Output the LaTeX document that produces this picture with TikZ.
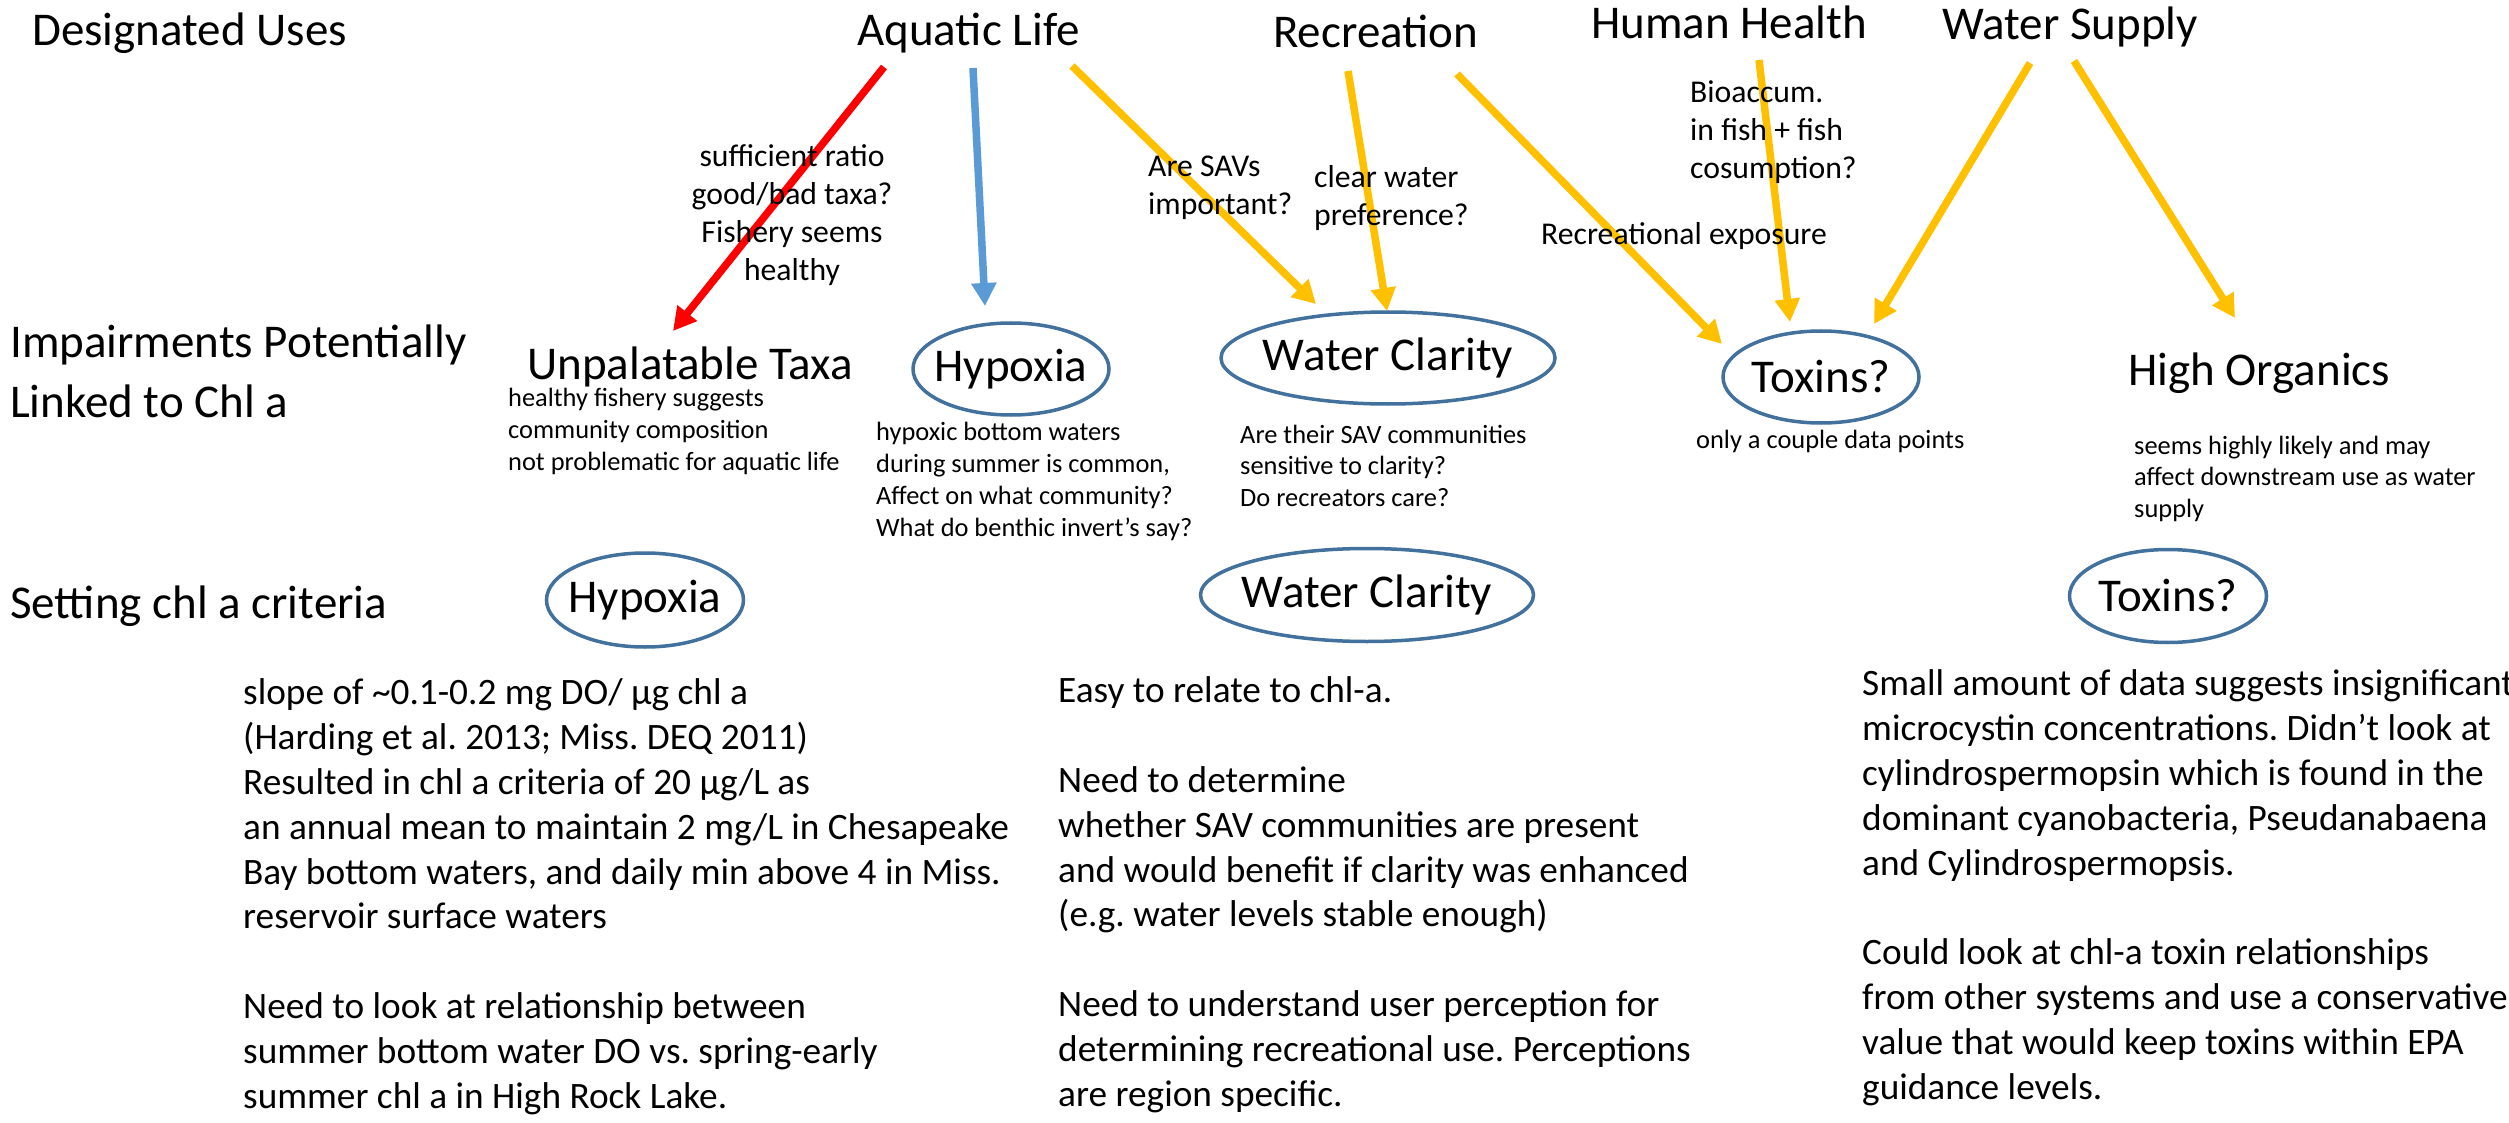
\documentclass[tikz,border=0pt]{standalone}
\usepackage{fontspec}
\setmainfont{Carlito}
\usetikzlibrary{arrows.meta,shapes.geometric}

\definecolor{arrowred}{HTML}{FF0000}
\definecolor{arrowblue}{HTML}{5B9BD5}
\definecolor{arrowgold}{HTML}{FFC000}
\definecolor{ringblue}{HTML}{41719C}

% zero-width box so the ellipse keeps its own size
\newcommand{\ringtext}[1]{\makebox[0pt][c]{#1}}

\begin{document}
\frenchspacing
\begin{tikzpicture}[x=1pt,y=-1pt,
  big/.style={font=\fontsize{47}{59}\selectfont, inner sep=0pt, anchor=base west, align=left},
  body/.style={font=\fontsize{37.3}{44.8}\selectfont, inner sep=0pt, align=left, anchor=base west},
  note/.style={font=\fontsize{26.4}{31.8}\selectfont, inner sep=0pt, align=left, anchor=base west},
  cue/.style={font=\fontsize{31.7}{38.3}\selectfont, inner sep=0pt, anchor=base west, align=left},
  ring/.style={ellipse, draw=ringblue, line width=3.5pt, inner sep=0pt,
    font=\fontsize{47}{59}\selectfont},
  link/.style={line width=7.5pt, -{Triangle[width=24pt,length=23pt]}},
]
\useasboundingbox (0,0) rectangle (2509,1123);
\fill[white] (0,0) rectangle (2509,1123);
% multi-line nodes are placed by the baseline of their last line

% ---- row headings
\node[big] (dsg) at (32,46) {Designated Uses};
\node[big] (imp) at (10,417) {Impairments Potentially\\Linked to Chl a};
\node[big] (set) at (10,618) {Setting chl a criteria};

% ---- designated uses
\node[big] (aqua) at (857,46) {Aquatic Life};
\node[big] (recr) at (1273,48) {Recreation};
\node[big] (hhea) at (1591,39) {Human Health};
\node[big] (wsup) at (1942,40) {Water Supply};

% ---- impairments
\node[big] (unp) at (527,379) {Unpalatable Taxa};
\node[ring, minimum width=196pt, minimum height=92pt] (hyp) at (1011,369) {\ringtext{Hypoxia}};
\node[ring, minimum width=334pt, minimum height=92pt] (clr) at (1388,358) {\ringtext{Water Clarity}};
\node[ring, minimum width=196pt, minimum height=92pt] (tox) at (1821,377) {\ringtext{Toxins?}};
\node[big] (org) at (2128,385) {High Organics};

\node[note] (unpn) at (508,470) {healthy fishery suggests\\community composition\\not problematic for aquatic life};
\node[note] (hypn) at (876,536) {hypoxic bottom waters\\during summer is common,\\Affect on what community?\\What do benthic invert’s say?};
\node[note] (clrn) at (1240,506.6) {Are their SAV communities\\sensitive to clarity?\\Do recreators care?};
\node[note] (toxn) at (1696,448) {only a couple data points};
\node[note] (orgn) at (2134,517.6) {seems highly likely and may\\affect downstream use as water\\supply};

% ---- criteria
\node[ring, minimum width=197pt, minimum height=94pt] (hyp3) at (645,600) {\ringtext{Hypoxia}};
\node[ring, minimum width=333pt, minimum height=93pt] (clr3) at (1367,595) {\ringtext{Water Clarity}};
\node[ring, minimum width=197pt, minimum height=93pt] (tox3) at (2168,596) {\ringtext{Toxins?}};

\node[body] (hypb) at (243,1108) {slope of \textasciitilde0.1-0.2 mg DO/ µg chl a\\(Harding et al. 2013; Miss. DEQ 2011)\\Resulted in chl a criteria of 20 µg/L as\\an annual mean to maintain 2 mg/L in Chesapeake\\Bay bottom waters, and daily min above 4 in Miss.\\reservoir surface waters\\[44.8pt]Need to look at relationship between\\summer bottom water DO vs. spring-early\\summer chl a in High Rock Lake.};
\node[body] (clrb) at (1058,1106) {Easy to relate to chl-a.\\[44.8pt]Need to determine\\whether SAV communities are present\\and would benefit if clarity was enhanced\\(e.g. water levels stable enough)\\[44.8pt]Need to understand user perception for\\determining recreational use. Perceptions\\are region specific.};
\node[body] (toxb) at (1862,1099) {Small amount of data suggests insignificant\\microcystin concentrations. Didn’t look at\\cylindrospermopsin which is found in the\\dominant cyanobacteria, Pseudanabaena\\and Cylindrospermopsis.\\[44.8pt]Could look at chl-a toxin relationships\\from other systems and use a conservative\\value that would keep toxins within EPA\\guidance levels.};

% ---- connector end points
\coordinate (aqR) at (884,67);   \coordinate (unpT) at (673,331);
\coordinate (aqB) at (973,68);   \coordinate (hypT) at (985,306);
\coordinate (aqG) at (1072,66);  \coordinate (clrL) at (1316,304);
\coordinate (reA) at (1348,71);  \coordinate (clrT) at (1387,311);
\coordinate (reB) at (1457,74);  \coordinate (toxL) at (1722,344);
\coordinate (hhA) at (1759,60);  \coordinate (toxT) at (1790,322);
\coordinate (wsA) at (2030,63);  \coordinate (toxR) at (1874,324);
\coordinate (wsB) at (2074,61);  \coordinate (orgT) at (2235,318);

\draw[link, arrowred]  (aqR) -- (unpT);
\draw[link, arrowblue] (aqB) -- (hypT);
\draw[link, arrowgold] (aqG) -- (clrL);
\draw[link, arrowgold] (reA) -- (clrT);
\draw[link, arrowgold] (reB) -- (toxL);
\draw[link, arrowgold] (hhA) -- (toxT);
\draw[link, arrowgold] (wsA) -- (toxR);
\draw[link, arrowgold] (wsB) -- (orgT);

% ---- arrow annotations
\node[cue, align=center, anchor=base] (cue1) at (792,281) {sufficient ratio\\good/bad taxa?\\Fishery seems\\healthy};
\node[cue] (cue2) at (1148,215) {Are SAVs\\important?};
\node[cue] (cue3) at (1314,226) {clear water\\preference?};
\node[cue] (cue4) at (1690,179) {Bioaccum.\\in fish + fish\\cosumption?};
\node[cue] (cue5) at (1541,245) {Recreational exposure};
\end{tikzpicture}
\end{document}
